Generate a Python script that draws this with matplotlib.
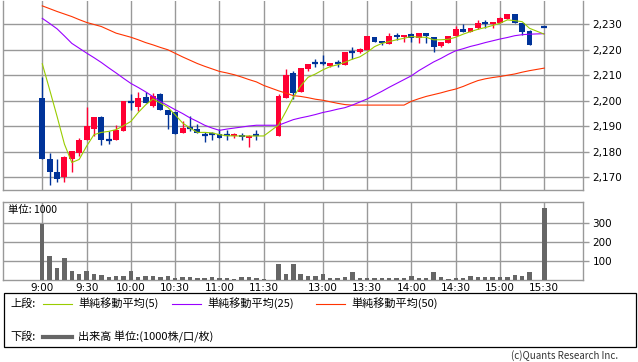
import numpy as np
import matplotlib.pyplot as plt
from matplotlib.lines import Line2D
from matplotlib.patches import Rectangle

plt.rcParams['font.family'] = ['DejaVu Sans', 'Noto Sans CJK JP']

# 5-minute slots (0 = 9:00, 30 = 11:30, 32 = 12:30 ... 68 = 15:30)
slots = list(range(0, 31)) + list(range(32, 67)) + [68]

opens = [2201, 2177.3, 2172, 2170, 2177.3, 2179.5, 2184.8, 2189.1, 2193.8, 2184.5,
         2184.8, 2188, 2199.6, 2197.5, 2201.5, 2198, 2202.8, 2196.3, 2195.5, 2187.2,
         2189.3, 2189.1, 2186.5, 2186.8, 2187, 2186.5, 2186.2, 2186.6, 2185.3, 2186.7,
         np.nan,
         2186, 2201.2, 2210.8, 2203.6, 2212.5, 2214.7, 2214.7, 2213.8, 2214.7, 2214,
         2219, 2219, 2219.9, 2225.1, 2223.5, 2222.3, 2225.6, 2224.8, 2226.2, 2224.5,
         2226.5, 2224.8, 2221.5, 2222.5, 2225.2, 2228.2, 2227.1, 2228.4, 2230.8, 2230,
         2230.4, 2232.1, 2233.9, 2230.4, 2227.4,
         2228.8]
highs = [2209.5, 2179.7, 2177.3, 2178.5, 2180.2, 2185.3, 2197.4, 2193.8, 2194.1, 2188.3,
         2190.6, 2199.8, 2202.6, 2203.5, 2203.5, 2203.2, 2203.1, 2196.3, 2195.5, 2192.2,
         2194, 2191, 2187.8, 2187.8, 2189, 2188.5, 2187.2, 2187.2, 2186.4, 2188.6,
         np.nan,
         2202.8, 2212.5, 2211.7, 2213, 2214.4, 2216.3, 2218, 2214.7, 2215.8, 2219.3,
         2221.2, 2220.5, 2225.2, 2225.1, 2223.5, 2226.5, 2226.5, 2225.6, 2226.7, 2226.5,
         2226.5, 2224.8, 2222.9, 2225.4, 2229.3, 2230, 2228.7, 2231.7, 2231.7, 2230.8,
         2233, 2233.9, 2233.9, 2230.4, 2227.8,
         2228.8]
lows = [2177, 2167, 2168, 2168.1, 2172, 2178.2, 2184.8, 2186, 2182.5, 2183,
        2184.5, 2188, 2196.5, 2195.8, 2199, 2197.6, 2196.2, 2189, 2187.1, 2187.2,
        2188, 2187.2, 2183.7, 2184.8, 2185.4, 2184.6, 2185.4, 2184.6, 2181.7, 2184.8,
        np.nan,
        2186, 2201.2, 2200.7, 2203.6, 2211.7, 2213.4, 2214, 2213.4, 2213.4, 2214,
        2216.4, 2218.7, 2219.9, 2222.9, 2222, 2222.3, 2223.9, 2223.2, 2223.2, 2222.5,
        2222.5, 2219.3, 2221.2, 2222.5, 2225.2, 2227.1, 2226.9, 2228.2, 2228.7, 2228.7,
        2230.4, 2232.1, 2230.4, 2225.6, 2221.7,
        2228.8]
closes = [2177.3, 2172, 2169.3, 2178, 2180.2, 2184.8, 2190.2, 2193.8, 2184.5, 2184.5,
          2188.7, 2199.8, 2199.6, 2201.2, 2199, 2202, 2196.2, 2194.5, 2187.1, 2189.4,
          2189.3, 2187.2, 2186.5, 2186.8, 2185.4, 2186.5, 2186.9, 2185.7, 2186.3, 2186.7,
          np.nan,
          2202, 2210.1, 2203.2, 2213, 2214.4, 2214.7, 2214.7, 2214.7, 2214.7, 2219,
          2219, 2220.3, 2225.2, 2222.9, 2222.5, 2225.2, 2224.8, 2225.6, 2224.5, 2226.5,
          2225.4, 2221.2, 2222.9, 2225.4, 2228.2, 2227.1, 2228.7, 2230.4, 2230.1, 2230.8,
          2232.6, 2233.9, 2230.4, 2227.1, 2221.7,
          2228.8]

ma5 = [2214.5, 2204.3, 2193.9, 2183.0, 2175.8, 2177.0, 2182.2, 2186.7, 2187.6, 2188.0,
       2188.7, 2190.2, 2191.9, 2195.4, 2198.4, 2200.7, 2199.1, 2197.4, 2194.5, 2191.3,
       2189.3, 2187.6, 2187.6, 2187.4, 2186.7, 2186.3, 2186.2, 2186.2, 2186.2, 2186.2,
       2186.2,
       2190.5, 2195.8, 2201.4, 2205.8, 2209.2, 2210.5, 2212.1, 2213.4, 2214.1, 2215.1,
       2216.3, 2217.2, 2219.0, 2221.2, 2222.5, 2223.2, 2223.9, 2224.5, 2225.2, 2224.9,
       2224.9, 2223.9, 2223.9, 2224.1, 2224.9, 2226.1, 2227.1, 2228.0, 2228.7, 2229.5,
       2230.4, 2231.7, 2231.4, 2231.0, 2228.4,
       2226.1]
ma25 = [2232.3, 2230.3, 2228.2, 2225.4, 2222.5, 2220.6, 2218.7, 2216.9, 2215.0, 2212.9,
        2210.9, 2208.8, 2206.8, 2205.2, 2203.5, 2201.6, 2199.7, 2198.1, 2196.5, 2195.0,
        2193.3, 2191.9, 2190.4, 2189.3, 2188.4, 2188.9, 2189.3, 2189.7, 2190.1, 2190.4,
        2190.4,
        2190.4, 2191.5, 2192.6, 2193.3, 2193.9, 2194.6, 2195.4, 2196.0, 2196.7, 2197.3,
        2198.3, 2199.5, 2200.7, 2202.2, 2203.7, 2205.3, 2206.8, 2208.3, 2209.8, 2211.8,
        2213.5, 2215.2, 2216.6, 2218.2, 2219.6, 2220.4, 2221.3, 2222.0, 2222.8, 2223.5,
        2224.2, 2224.8, 2225.5, 2225.9, 2226.1,
        2226.3]
ma50 = [2237.2, 2236.1, 2235.0, 2234.0, 2233.0, 2231.8, 2230.7, 2229.9, 2229.1, 2227.8,
        2226.5, 2225.7, 2224.9, 2223.9, 2222.8, 2221.9, 2220.9, 2220.0, 2218.6, 2217.2,
        2215.9, 2214.6, 2213.5, 2212.5, 2211.5, 2210.9, 2210.2, 2209.3, 2208.3, 2207.4,
        2206.0,
        2203.9, 2203.0, 2202.0, 2201.7, 2201.2, 2200.6, 2200.2, 2199.6, 2199.0, 2198.5,
        2198.3, 2198.3, 2198.3, 2198.3, 2198.3, 2198.3, 2198.3, 2198.3, 2199.8, 2200.8,
        2201.7, 2202.4, 2203.1, 2203.9, 2204.6, 2205.6, 2206.8, 2207.9, 2208.6, 2209.1,
        2209.5, 2210.0, 2210.5, 2211.2, 2211.8,
        2212.8]

volumes = [298, 126, 65, 118, 47, 32, 47, 32, 26, 19,
           21, 21, 47, 18, 25, 21, 18, 21, 12, 16,
           16, 12, 12, 16, 12, 12, 7, 16, 16, 12,
           5,
           88, 32, 88, 32, 23, 23, 32, 11, 11, 16,
           42, 11, 11, 11, 11, 11, 11, 11, 21, 11,
           11, 42, 16, 5, 11, 11, 21, 16, 16, 16,
           16, 16, 26, 21, 42,
           382]

tick_slots = [0, 6, 12, 18, 24, 30, 38, 44, 50, 56, 62, 68]
tick_labels = ['9:00', '9:30', '10:00', '10:30', '11:00', '11:30',
               '13:00', '13:30', '14:00', '14:30', '15:00', '15:30']
price_ticks = [2170, 2180, 2190, 2200, 2210, 2220, 2230]
vol_ticks = [100, 200, 300]

RED = '#ff0033'
BLUE = '#003399'
GRID = '#999999'
CJK = ['Noto Sans CJK JP', 'DejaVu Sans']

W, H = 638, 362
fig = plt.figure(figsize=(W / 100, H / 100), dpi=100)


def px_axes(x0, y0, x1, y1):
    return fig.add_axes([x0 / W, 1 - y1 / H, (x1 - x0) / W, (y1 - y0) / H])


ax1 = px_axes(3.3, 0.5, 582.7, 190.3)
ax2 = px_axes(3.3, 201.7, 582.7, 280.3)

xlim = (-5.28, 73.2)

# upper panel: candles and moving averages
for i, o, h, l, c in zip(slots, opens, highs, lows, closes):
    if np.isnan(o):
        continue
    col = RED if c > o else BLUE
    ax1.vlines(i, l, h, color=col, lw=1.0, zorder=3)
    if abs(c - o) < 0.3:
        ax1.hlines(c, i - 0.4, i + 0.4, color=col, lw=1.6, zorder=3)
    else:
        ax1.bar(i, abs(c - o), bottom=min(o, c), width=0.8, color=col, lw=0, zorder=3)

ax1.plot(slots, ma50, color='#ff3300', lw=0.8, zorder=4)
ax1.plot(slots, ma25, color='#9900ff', lw=0.8, zorder=4)
ax1.plot(slots, ma5, color='#99cc00', lw=0.8, zorder=4)

ax1.set_xlim(*xlim)
ax1.set_ylim(2164.9, 2239.3)
ax1.set_xticks(tick_slots)
ax1.set_yticks(price_ticks)
ax1.set_yticklabels([f'{p:,}' for p in price_ticks])
ax1.tick_params(axis='x', length=0, labelbottom=False)

# lower panel: volume
ax2.bar(slots, volumes, width=0.6, color='#666666', lw=0, zorder=3)
ax2.set_xlim(*xlim)
ax2.set_ylim(0, 414)
ax2.set_xticks(tick_slots)
ax2.set_xticklabels(tick_labels)
ax2.set_yticks(vol_ticks)
ax2.tick_params(axis='x', length=0, pad=2)
ax2.text(0.008, 0.9, '単位: 1000', transform=ax2.transAxes, fontsize=7.5,
         family=CJK, va='center', ha='left')

for ax in (ax1, ax2):
    ax.grid(True, color=GRID, lw=1.0, zorder=0)
    ax.yaxis.tick_right()
    ax.tick_params(axis='y', length=4, width=1.0, color=GRID, pad=3, labelsize=7.5)
    ax.tick_params(axis='x', labelsize=7.5)
    for s in ax.spines.values():
        s.set_color(GRID)
        s.set_linewidth(1.0)
ax1.spines['top'].set_visible(False)

# legend box
fig.add_artist(Rectangle((3.5 / W, 1 - 347 / H), 632.5 / W, 54 / H,
                         transform=fig.transFigure, fill=False, ec='black', lw=0.9))


def fx(x):
    return x / W


def fy(y):
    return 1 - y / H


row1, row2 = 303.5, 336.5
fig.text(fx(10), fy(row1), '上段:', family=CJK, fontsize=8, va='center')
entries = [(43, '#99cc00', '単純移動平均(5)'),
           (172, '#9900ff', '単純移動平均(25)'),
           (316, '#ff3300', '単純移動平均(50)')]
for x0, col, label in entries:
    fig.add_artist(Line2D([fx(x0), fx(x0 + 29)], [fy(row1), fy(row1)],
                          transform=fig.transFigure, color=col, lw=0.8))
    fig.text(fx(x0 + 35), fy(row1), label, family=CJK, fontsize=8, va='center')

fig.text(fx(10), fy(row2), '下段:', family=CJK, fontsize=8, va='center')
fig.add_artist(Line2D([fx(43), fx(72)], [fy(row2), fy(row2)],
                      transform=fig.transFigure, color='#666666', lw=3))
fig.text(fx(78), fy(row2), '出来高 単位:(1000株/口/枚)', family=CJK, fontsize=8, va='center')

fig.text(fx(618), fy(355.5), '(c)Quants Research Inc.', family=CJK, fontsize=7,
         va='center', ha='right', color='#333333')

fig.savefig('out.png', dpi=100)
